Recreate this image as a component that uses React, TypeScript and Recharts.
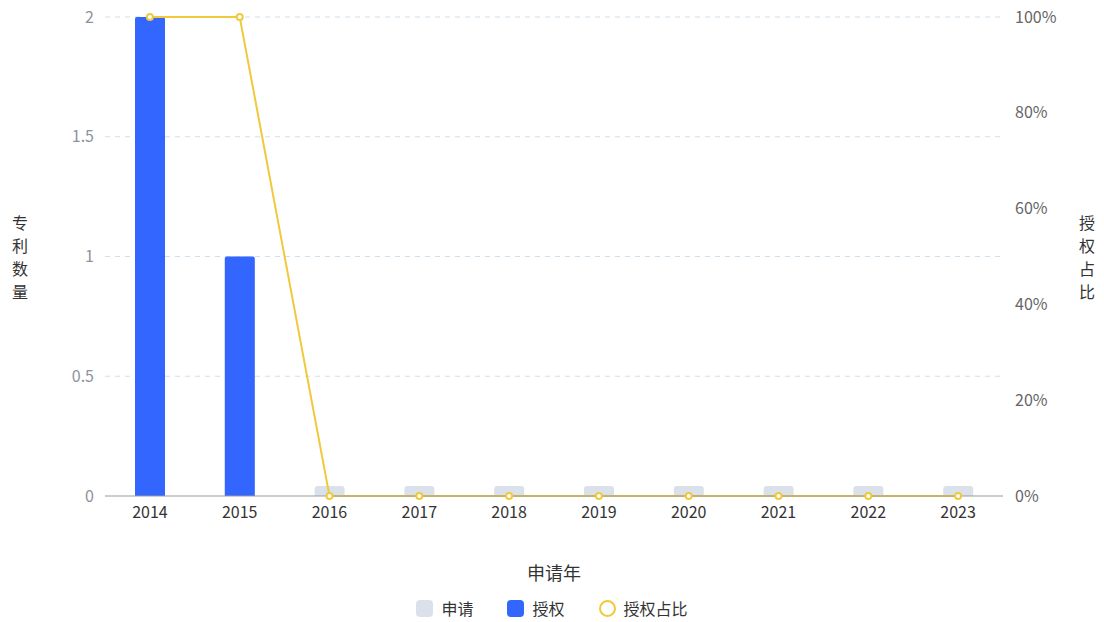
import {
  Bar,
  CartesianGrid,
  ComposedChart,
  Label,
  Legend,
  Line,
  XAxis,
  YAxis,
} from 'recharts';

const years = ['2014', '2015', '2016', '2017', '2018', '2019', '2020', '2021', '2022', '2023'];
const applied = [2, 1, 0, 0, 0, 0, 0, 0, 0, 0];
const granted = [2, 1, 0, 0, 0, 0, 0, 0, 0, 0];
const grantRatio = [1, 1, 0, 0, 0, 0, 0, 0, 0, 0];

const countTicks = [0, 0.5, 1, 1.5, 2];
const ratioTicks = [0, 0.2, 0.4, 0.6, 0.8, 1];

const FONT = '"Noto Sans CJK SC", "Noto Sans", sans-serif';
const GREY_BAR = '#dbe1ea';
const BLUE = '#3366ff';
const YELLOW = '#f0c93c';

const data = years.map((y, i) => ({
  year: y,
  applied: applied[i],
  granted: granted[i],
  ratio: grantRatio[i],
}));

// stacked one-character-per-line axis title
function VerticalLabel({ viewBox, text, x }: any) {
  const cy = viewBox ? viewBox.y + viewBox.height / 2 : 250;
  const chars = text.split('');
  const step = 23;
  const start = cy - ((chars.length - 1) * step) / 2;
  return (
    <g>
      {chars.map((c: string, i: number) => (
        <text
          key={i}
          x={x}
          y={start + i * step}
          fill="#333"
          fontSize={16}
          fontFamily={FONT}
          textAnchor="middle"
          dominantBaseline="central"
        >
          {c}
        </text>
      ))}
    </g>
  );
}

function LegendContent() {
  const items = [
    { name: '申请', kind: 'square', color: GREY_BAR },
    { name: '授权', kind: 'square', color: BLUE },
    { name: '授权占比', kind: 'circle', color: YELLOW },
  ];
  return (
    <div
      style={{
        display: 'flex',
        justifyContent: 'center',
        alignItems: 'center',
        gap: 34,
        fontFamily: FONT,
        fontSize: 16,
        color: '#333',
        paddingTop: 10,
      }}
    >
      {items.map((it) => (
        <div key={it.name} style={{ display: 'flex', alignItems: 'center', gap: 8 }}>
          {it.kind === 'square' ? (
            <span
              style={{
                display: 'inline-block',
                width: 17,
                height: 17,
                borderRadius: 4,
                background: it.color,
              }}
            />
          ) : (
            <span
              style={{
                display: 'inline-block',
                width: 13,
                height: 13,
                borderRadius: '50%',
                border: `2px solid ${it.color}`,
                background: '#fff',
              }}
            />
          )}
          <span>{it.name}</span>
        </div>
      ))}
    </div>
  );
}

export default function App() {
  return (
    <div style={{ position: 'absolute', left: 0, top: 0, width: 1104, height: 622, background: '#fff' }}>
      <ComposedChart
        width={1104}
        height={622}
        data={data}
        margin={{ top: 17, right: 0, left: 0, bottom: 0 }}
        barGap={-30}
        barSize={30}
      >
        <CartesianGrid
          yAxisId="count"
          vertical={false}
          stroke="#cfdfec"
          strokeDasharray="5 5"
          horizontalValues={[0.5, 1, 1.5, 2]}
        />
        <XAxis
          dataKey="year"
          height={90}
          axisLine={{ stroke: '#9a9a9a' }}
          tickLine={false}
          tick={{ fill: '#333', fontSize: 16, fontFamily: FONT }}
          tickMargin={5}
        >
          <Label
            value="申请年"
            position="insideBottom"
            offset={6}
            style={{ fill: '#333', fontSize: 18, fontFamily: FONT }}
          />
        </XAxis>
        <YAxis
          yAxisId="count"
          width={105}
          domain={[0, 2]}
          ticks={countTicks}
          axisLine={false}
          tickLine={false}
          tick={{ fill: '#8e939c', fontSize: 16, fontFamily: FONT }}
          tickMargin={5}
        >
          <Label content={(p: any) => <VerticalLabel {...p} text="专利数量" x={20} />} />
        </YAxis>
        <YAxis
          yAxisId="ratio"
          orientation="right"
          width={101}
          domain={[0, 1]}
          ticks={ratioTicks}
          tickFormatter={(v: number) => `${Math.round(v * 100)}%`}
          axisLine={false}
          tickLine={false}
          tick={{ fill: '#666', fontSize: 16, fontFamily: FONT }}
          tickMargin={6}
        >
          <Label content={(p: any) => <VerticalLabel {...p} text="授权占比" x={1087} />} />
        </YAxis>
        <Legend
          verticalAlign="bottom"
          height={36}
          content={() => <LegendContent />}
        />
        <Bar
          yAxisId="count"
          dataKey="applied"
          name="申请"
          fill={GREY_BAR}
          minPointSize={10}
          radius={[3, 3, 0, 0]}
          isAnimationActive={false}
        />
        <Bar
          yAxisId="count"
          dataKey="granted"
          name="授权"
          fill={BLUE}
          radius={[2, 2, 0, 0]}
          isAnimationActive={false}
        />
        <Line
          yAxisId="ratio"
          dataKey="ratio"
          name="授权占比"
          type="linear"
          stroke={YELLOW}
          strokeWidth={2}
          dot={{ r: 3, fill: '#fff', stroke: YELLOW, strokeWidth: 2 }}
          isAnimationActive={false}
        />
      </ComposedChart>
    </div>
  );
}
